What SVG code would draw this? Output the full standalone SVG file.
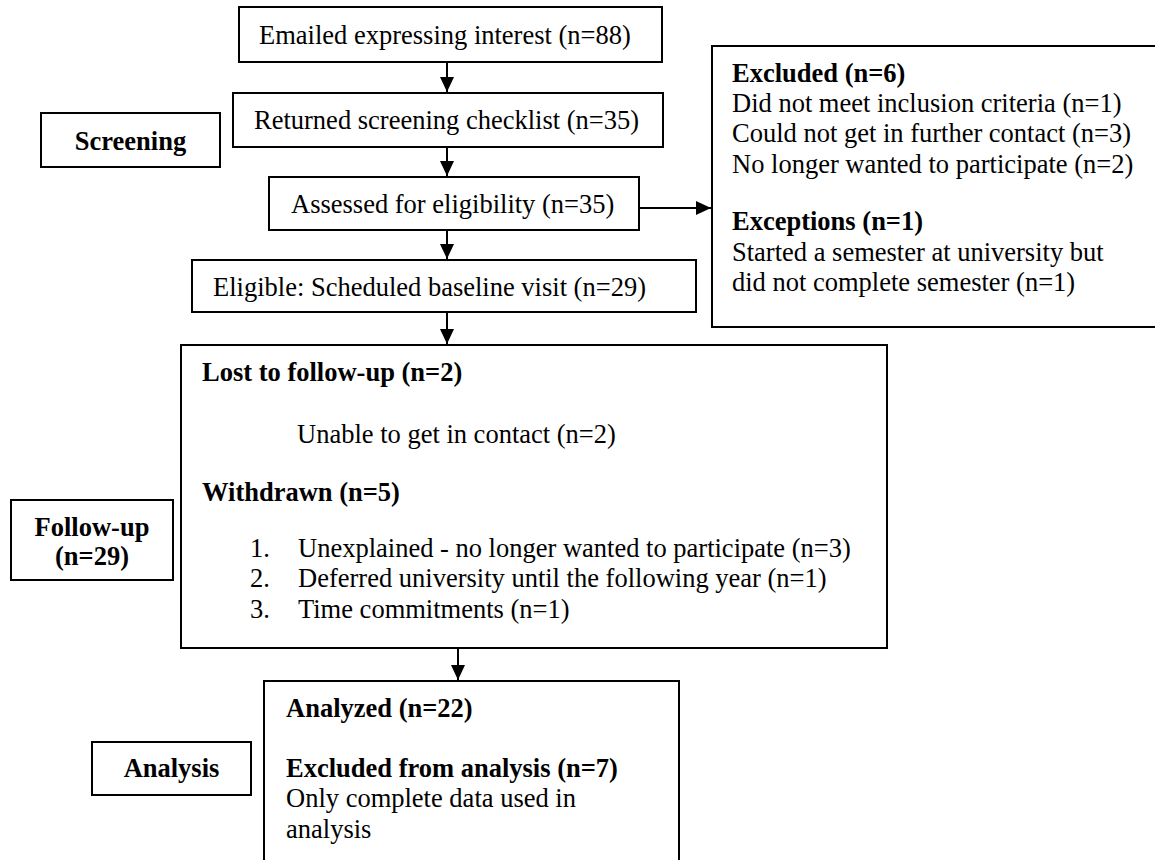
<svg xmlns="http://www.w3.org/2000/svg" width="1155" height="860" viewBox="0 0 1155 860">
<style>
.box{fill:#fff;stroke:#000;stroke-width:2}
.t{font-family:"Liberation Serif","Times New Roman",serif;font-size:26.5px;fill:#000}
.b{font-weight:bold}
.c{text-anchor:middle}
.ln{stroke:#000;stroke-width:2;fill:none}
</style>
<defs>
<marker id="arr" viewBox="0 0 15 14" refX="15" refY="7" markerWidth="15" markerHeight="14" orient="auto" markerUnits="userSpaceOnUse">
<path d="M0,0 L15,7 L0,14 Z" fill="#000"/>
</marker>
</defs>
<rect width="1155" height="860" fill="#fff"/>

<g id="connectors">
<line class="ln" x1="447" y1="62" x2="447" y2="92" marker-end="url(#arr)"/>
<line class="ln" x1="447" y1="147" x2="447" y2="176" marker-end="url(#arr)"/>
<line class="ln" x1="447" y1="230" x2="447" y2="259" marker-end="url(#arr)"/>
<line class="ln" x1="639" y1="208" x2="711" y2="208" marker-end="url(#arr)"/>
<line class="ln" x1="447" y1="312" x2="447" y2="344" marker-end="url(#arr)"/>
<line class="ln" x1="458" y1="648" x2="458" y2="680" marker-end="url(#arr)"/>
</g>

<g id="emailed">
<rect class="box" x="239" y="7" width="423" height="55"/>
<text class="t" x="259" y="44">Emailed expressing interest (n=88)</text>
</g>

<g id="returned">
<rect class="box" x="233" y="93" width="430" height="54"/>
<text class="t" x="254" y="129">Returned screening checklist (n=35)</text>
</g>

<g id="screening">
<rect class="box" x="41" y="113" width="179" height="54"/>
<text class="t b c" x="130.5" y="150">Screening</text>
</g>

<g id="assessed">
<rect class="box" x="269" y="177" width="370" height="53"/>
<text class="t" x="291" y="213">Assessed for eligibility (n=35)</text>
</g>

<g id="eligible">
<rect class="box" x="192" y="260" width="504" height="52"/>
<text class="t" x="213" y="296">Eligible: Scheduled baseline visit (n=29)</text>
</g>

<g id="excluded">
<rect class="box" x="712" y="46" width="460" height="281"/>
<text class="t b" x="732" y="82">Excluded (n=6)</text>
<text class="t" x="732" y="112">Did not meet inclusion criteria (n=1)</text>
<text class="t" x="732" y="142">Could not get in further contact (n=3)</text>
<text class="t" x="732" y="172.5">No longer wanted to participate (n=2)</text>
<text class="t b" x="732" y="230">Exceptions (n=1)</text>
<text class="t" x="732" y="261">Started a semester at university but</text>
<text class="t" x="732" y="291">did not complete semester (n=1)</text>
</g>

<g id="followup-box">
<rect class="box" x="181" y="345" width="706" height="303"/>
<text class="t b" x="202" y="381">Lost to follow-up (n=2)</text>
<text class="t" x="297" y="443">Unable to get in contact (n=2)</text>
<text class="t b" x="202" y="501">Withdrawn (n=5)</text>
<text class="t" x="250" y="557">1.</text>
<text class="t" x="298" y="557">Unexplained - no longer wanted to participate (n=3)</text>
<text class="t" x="250" y="587">2.</text>
<text class="t" x="298" y="587">Deferred university until the following year (n=1)</text>
<text class="t" x="250" y="618">3.</text>
<text class="t" x="298" y="618">Time commitments (n=1)</text>
</g>

<g id="followup-label">
<rect class="box" x="11" y="500" width="162" height="80"/>
<text class="t b c" x="92" y="536">Follow-up</text>
<text class="t b c" x="92" y="565">(n=29)</text>
</g>

<g id="analyzed">
<rect class="box" x="264" y="681" width="415" height="190"/>
<text class="t b" x="286" y="717">Analyzed (n=22)</text>
<text class="t b" x="286" y="777">Excluded from analysis (n=7)</text>
<text class="t" x="286" y="807">Only complete data used in</text>
<text class="t" x="286" y="838">analysis</text>
</g>

<g id="analysis">
<rect class="box" x="92" y="742" width="159" height="53"/>
<text class="t b c" x="171.5" y="777">Analysis</text>
</g>
</svg>
